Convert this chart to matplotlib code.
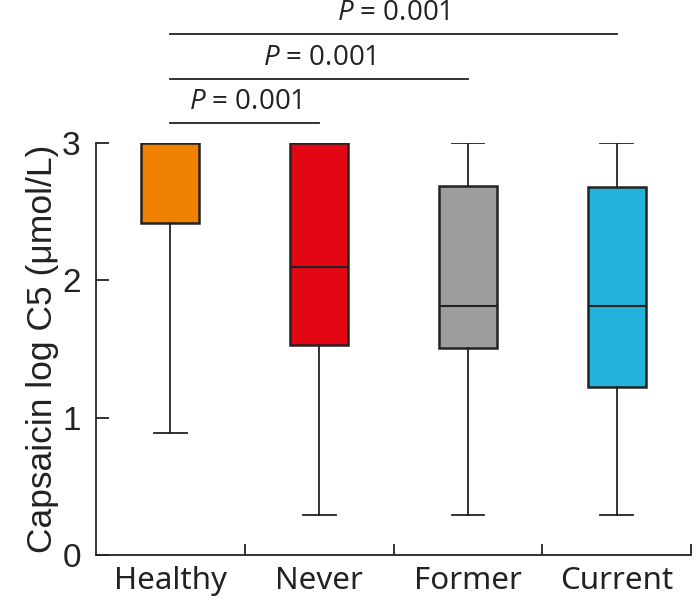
import matplotlib
matplotlib.use('Agg')
import matplotlib.pyplot as plt

groups = ['Healthy', 'Never', 'Former', 'Current']
whislo = [0.89, 0.29, 0.29, 0.29]
q1 = [2.42, 1.53, 1.51, 1.22]
med = [3.0, 2.10, 1.81, 1.81]
q3 = [3.0, 3.0, 2.69, 2.68]
whishi = [3.0, 3.0, 3.0, 3.0]
colors = ['#F08000', '#E30613', '#9D9D9D', '#22B2DA']

# comparisons: (group a, group b, line height, label)
comps = [(0, 1, 3.146, 'P = 0.001'), (0, 2, 3.466, 'P = 0.001'), (0, 3, 3.794, 'P = 0.001')]

plt.rcParams['font.family'] = ['Liberation Sans', 'DejaVu Sans']
plt.rcParams['mathtext.fontset'] = 'custom'
plt.rcParams['mathtext.rm'] = 'Open Sans'
plt.rcParams['mathtext.it'] = 'Open Sans:italic'

fig = plt.figure(figsize=(6.96, 6.08), dpi=100)
ax = fig.add_axes([0.138, 0.0872, 0.993 - 0.138, 0.7648 - 0.0872])

stats = [dict(whislo=a, q1=b, med=c, q3=d, whishi=e, fliers=[], label=g)
         for a, b, c, d, e, g in zip(whislo, q1, med, q3, whishi, groups)]
bp = ax.bxp(stats, positions=range(4), widths=0.39, patch_artist=True, showfliers=False,
            boxprops=dict(edgecolor='#222222', linewidth=1.8),
            medianprops=dict(color='#222222', linewidth=1.5),
            whiskerprops=dict(color='#222222', linewidth=1.3),
            capprops=dict(color='#222222', linewidth=1.3), capwidths=0.22)
for patch, c in zip(bp['boxes'], colors):
    patch.set_facecolor(c)

ax.set_xlim(-0.5, 3.5)
ax.set_ylim(0, 3)
ax.set_yticks([0, 1, 2, 3])
ax.set_xticks(range(4))
ax.set_xticklabels(groups, fontsize=22.5, family=['Noto Sans', 'DejaVu Sans'], color='#222222')
ax.set_xticks([0.5, 1.5, 2.5, 3.5], minor=True)
ax.tick_params(axis='x', which='major', length=0, pad=8)
ax.tick_params(axis='x', which='minor', direction='in', length=8, width=1.3, color='#222222')
ax.tick_params(axis='y', direction='in', length=9, width=1.3, color='#222222', labelsize=24, pad=11,
               labelcolor='#222222')
for s in ['top', 'right']:
    ax.spines[s].set_visible(False)
for s in ['left', 'bottom']:
    ax.spines[s].set_linewidth(1.3)
    ax.spines[s].set_color('#222222')
ax.set_ylabel('Capsaicin log C5 (μmol/L)', fontsize=25.5, labelpad=2, color='#222222')

for a, b, h, lab in comps:
    ax.plot([a, b], [h, h], color='#222222', lw=1.3, clip_on=False)
    ax.text((a + b) / 2, h + 0.05, r'$\it{P}$ = 0.001', ha='center', va='bottom', fontsize=20,
            family=['Open Sans', 'DejaVu Sans'], color='#222222')

fig.savefig('out.png', dpi=100)
